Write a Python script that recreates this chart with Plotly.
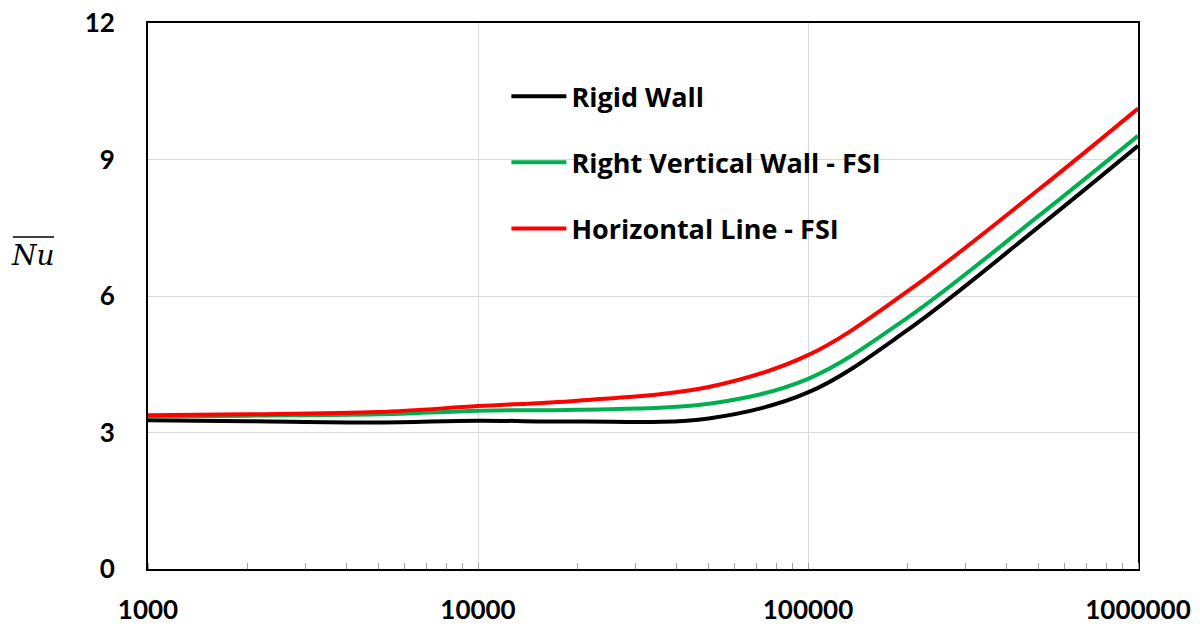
import plotly.graph_objects as go

ra = [1000, 2000, 5000, 10000, 20000, 50000, 100000, 200000, 500000, 1000000]
rigid_wall = [3.27, 3.25, 3.22, 3.26, 3.24, 3.31, 3.88, 5.25, 7.52, 9.30]
right_vertical_fsi = [3.35, 3.37, 3.40, 3.48, 3.50, 3.63, 4.18, 5.52, 7.76, 9.52]
horizontal_line_fsi = [3.38, 3.40, 3.45, 3.58, 3.70, 4.00, 4.70, 6.10, 8.34, 10.12]

series_names = ["Rigid Wall", "Right Vertical Wall - FSI", "Horizontal Line - FSI"]
series_values = [rigid_wall, right_vertical_fsi, horizontal_line_fsi]
series_colors = ["#000000", "#00b050", "#ff0000"]

x_tickvals = [1000, 10000, 100000, 1000000]
x_ticktext = ["1000", "10000", "100000", "1000000"]
y_tickvals = [0, 3, 6, 9, 12]

fig = go.Figure()
for name, vals, col in zip(series_names, series_values, series_colors):
    fig.add_trace(go.Scatter(
        x=ra, y=vals, name=name, mode="lines",
        line=dict(color=col, width=4, shape="spline", smoothing=1.0),
        legendgroup=name,
    ))

font_family = "Lato, 'Open Sans', sans-serif"

fig.update_layout(
    width=1200, height=627,
    margin=dict(l=148, r=62, t=23, b=58, autoexpand=False),
    paper_bgcolor="white", plot_bgcolor="white",
    font=dict(family=font_family, color="#000000"),
    showlegend=True,
    legend=dict(
        x=0.362, y=0.910, xanchor="left", yanchor="top",
        bgcolor="rgba(0,0,0,0)",
        font=dict(size=27, family="'Open Sans', sans-serif", color="#000000", weight="bold"),
        traceorder="grouped", tracegroupgap=28, itemwidth=55,
    ),
    xaxis=dict(
        type="log", range=[3, 6], automargin=False,
        tickvals=x_tickvals, ticktext=x_ticktext,
        tickfont=dict(size=26, family=font_family, weight="bold"),
        showgrid=True, gridcolor="#d9d9d9", gridwidth=1,
        showline=True, linecolor="#000000", linewidth=2, mirror=True,
        ticks="", ticklabelstandoff=17,
        minor=dict(ticks="inside", ticklen=6, tickcolor="#a0a0a0",
                   tickwidth=1, dtick="D1", showgrid=False),
        zeroline=False,
    ),
    yaxis=dict(
        range=[0, 12], tickvals=y_tickvals, automargin=False,
        tickfont=dict(size=26, family=font_family, weight="bold"),
        showgrid=True, gridcolor="#d9d9d9", gridwidth=1,
        showline=True, linecolor="#000000", linewidth=2, mirror=True,
        ticks="", ticklabelstandoff=26,
        zeroline=False,
    ),
)

fig.add_annotation(
    xref="paper", yref="paper", x=-0.116, y=0.575,
    text="<i>Nu</i>", showarrow=False,
    font=dict(size=28, family="'DejaVu Serif', 'Liberation Serif', serif", color="#000000"),
    xanchor="center", yanchor="middle",
)
fig.add_shape(
    type="line", xref="paper", yref="paper",
    x0=-0.1365, x1=-0.095, y0=0.608, y1=0.608,
    line=dict(color="#000000", width=1.5),
)

fig.write_html("out.html")
